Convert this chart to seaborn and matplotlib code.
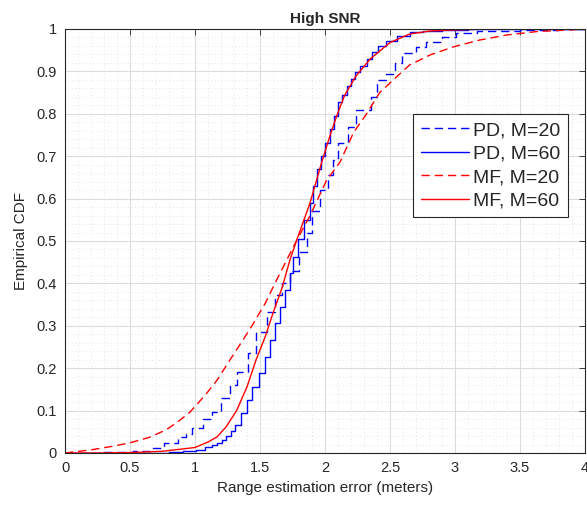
import numpy as np
import pandas as pd
import seaborn as sns
import matplotlib.pyplot as plt
from matplotlib.ticker import MultipleLocator, FuncFormatter

# values
pd20_x = [0, 0.3, 0.52, 0.65, 0.76, 0.87, 0.93, 0.98, 1.06, 1.13, 1.2, 1.27, 1.32, 1.41, 1.47,
          1.55, 1.615, 1.67, 1.73, 1.8, 1.86, 1.9, 1.96, 2.02, 2.06, 2.1, 2.18, 2.24, 2.35, 2.4,
          2.47, 2.54, 2.59, 2.7, 2.78, 2.9, 3.01, 3.17, 3.5, 3.8, 4.0]
pd20_y = [0, 0.002, 0.005, 0.012, 0.024, 0.038, 0.045, 0.058, 0.08, 0.097, 0.13, 0.16, 0.19,
          0.235, 0.286, 0.333, 0.373, 0.40, 0.43, 0.475, 0.52, 0.57, 0.62, 0.655, 0.69, 0.73,
          0.77, 0.81, 0.84, 0.88, 0.895, 0.92, 0.943, 0.958, 0.97, 0.982, 0.99, 0.995, 0.997,
          0.999, 1.0]

pd60_x = [0, 0.5, 0.8, 0.91, 1.01, 1.08, 1.13, 1.17, 1.21, 1.24, 1.28, 1.31, 1.35, 1.40, 1.44,
          1.49, 1.54, 1.58, 1.615, 1.65, 1.69, 1.73, 1.756, 1.795, 1.84, 1.885, 1.91, 1.94, 1.97,
          2.0, 2.04, 2.07, 2.10, 2.13, 2.17, 2.20, 2.23, 2.27, 2.32, 2.36, 2.41, 2.47, 2.55,
          2.65, 2.75, 2.9, 3.1, 4.0]
pd60_y = [0, 0.001, 0.002, 0.004, 0.008, 0.014, 0.018, 0.024, 0.03, 0.04, 0.052, 0.066, 0.094,
          0.125, 0.156, 0.188, 0.227, 0.267, 0.306, 0.345, 0.384, 0.424, 0.463, 0.505, 0.55,
          0.59, 0.63, 0.67, 0.70, 0.73, 0.764, 0.795, 0.827, 0.845, 0.866, 0.882, 0.898, 0.913,
          0.93, 0.945, 0.96, 0.972, 0.984, 0.992, 0.996, 0.998, 1.0, 1.0]

mf20_x = [0, 0.19, 0.35, 0.5, 0.65, 0.78, 0.87, 0.96, 1.08, 1.17, 1.27, 1.37, 1.45, 1.54, 1.615,
          1.705, 1.78, 1.885, 2.01, 2.115, 2.22, 2.32, 2.42, 2.54, 2.65, 2.81, 2.99, 3.19, 3.4,
          3.63, 3.96, 4.0]
mf20_y = [0, 0.007, 0.015, 0.024, 0.037, 0.055, 0.074, 0.096, 0.137, 0.172, 0.22, 0.267, 0.306,
          0.353, 0.40, 0.455, 0.50, 0.56, 0.642, 0.686, 0.756, 0.80, 0.85, 0.884, 0.915, 0.939,
          0.958, 0.974, 0.986, 0.994, 0.999, 0.999]

mf60_x = [0, 0.25, 0.5, 0.75, 1.0, 1.1, 1.17, 1.24, 1.32, 1.40, 1.47, 1.54, 1.60, 1.67, 1.73,
          1.78, 1.885, 1.975, 2.04, 2.09, 2.15, 2.24, 2.35, 2.5, 2.65, 2.8, 3.0, 3.3, 4.0]
mf60_y = [0, 0.0, 0.001, 0.004, 0.013, 0.026, 0.038, 0.062, 0.10, 0.156, 0.22, 0.274, 0.33,
          0.39, 0.455, 0.50, 0.59, 0.686, 0.75, 0.795, 0.843, 0.89, 0.93, 0.968, 0.988, 0.995,
          0.998, 1.0, 1.0]

labels = ['PD, M=20', 'PD, M=60', 'MF, M=20', 'MF, M=60']

sns.set_style('white')
plt.rcParams['font.family'] = ['Liberation Sans', 'DejaVu Sans']
plt.rcParams['text.color'] = '#262626'
plt.rcParams['axes.labelcolor'] = '#262626'
plt.rcParams['xtick.color'] = '#262626'
plt.rcParams['ytick.color'] = '#262626'

fig = plt.figure(figsize=(5.87, 5.08), dpi=100)
ax = fig.add_axes([65 / 587, 1 - 453 / 508, 520 / 587, 424 / 508])

dash = (0, (6, 3.5))
curves = [
    (pd20_x, pd20_y, '#0000ff', dash, 'steps-post'),
    (pd60_x, pd60_y, '#0000ff', '-', 'steps-post'),
    (mf20_x, mf20_y, '#ff0000', dash, 'default'),
    (mf60_x, mf60_y, '#ff0000', '-', 'default'),
]
for (xs, ys, col, ls, dstyle), lab in zip(curves, labels):
    df = pd.DataFrame({'x': xs, 'y': ys})
    sns.lineplot(data=df, x='x', y='y', ax=ax, color=col, linestyle=ls, linewidth=1.0,
                 drawstyle=dstyle, estimator=None, sort=False, label=lab)

ax.set_xlim(0, 4)
ax.set_ylim(0, 1)
ax.xaxis.set_major_locator(MultipleLocator(0.5))
ax.yaxis.set_major_locator(MultipleLocator(0.1))
ax.xaxis.set_minor_locator(MultipleLocator(0.1))
ax.yaxis.set_minor_locator(MultipleLocator(0.02))
fmt = FuncFormatter(lambda v, p: f'{v:g}')
ax.xaxis.set_major_formatter(fmt)
ax.yaxis.set_major_formatter(fmt)

ax.grid(True, which='major', color='#dcdcdc', linewidth=0.8, linestyle='-')
ax.grid(True, which='minor', color='#cfcfcf', linewidth=0.5, linestyle=(0, (1, 4)))
ax.set_axisbelow(True)
ax.tick_params(which='major', direction='in', length=4, width=0.6, top=True, right=True,
               labelsize=10.5, pad=6)
ax.tick_params(which='minor', length=0, top=True, right=True)
for sp in ax.spines.values():
    sp.set_color('#262626')
    sp.set_linewidth(0.8)

ax.set_xlabel('Range estimation error (meters)', fontsize=11, labelpad=4)
ax.set_ylabel('Empirical CDF', fontsize=11, labelpad=6)
ax.set_title('High SNR', fontsize=11, fontweight='bold', pad=4)

leg = ax.legend(loc='upper left', bbox_to_anchor=(0.669, 0.80), fontsize=14,
                frameon=True, fancybox=False, handlelength=2.5, handletextpad=0.2,
                borderpad=0.4, labelspacing=0.3, borderaxespad=0)
leg.get_frame().set_edgecolor('#262626')
leg.get_frame().set_linewidth(0.8)
leg.get_frame().set_alpha(1)

fig.savefig('out.png', dpi=100)
